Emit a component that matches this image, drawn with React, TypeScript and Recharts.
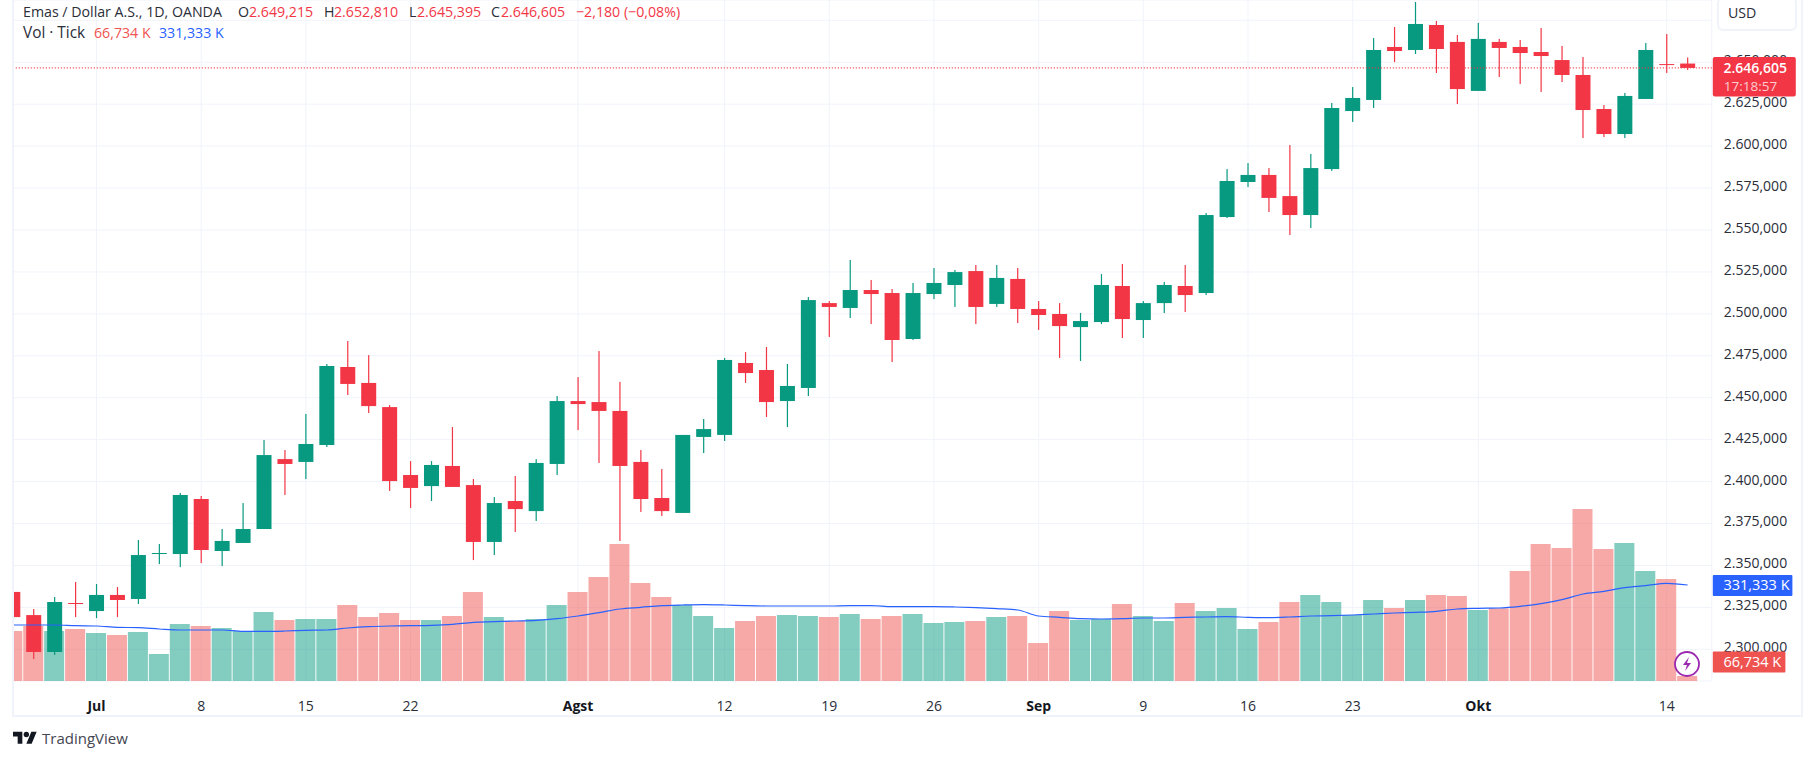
import { Bar, CartesianGrid, Cell, ComposedChart, Line, ReferenceLine, XAxis, YAxis } from 'recharts';

// prices in thousands, one row per trading week
const opens = [
  2334.2, 2320.4, 2298.4, 2327.6,
  2322.8, 2332.4, 2330.0, 2356.8, 2356.8,
  2389.6, 2358.6, 2363.4, 2371.7, 2413.4,
  2411.7, 2421.8, 2468.3, 2458.8, 2444.4,
  2403.9, 2397.3, 2409.3, 2397.9, 2364.0,
  2388.4, 2382.4, 2410.5, 2448.0, 2447.4,
  2442.1, 2411.7, 2390.2, 2381.3, 2426.6,
  2427.8, 2470.7, 2466.5, 2448.0, 2455.8,
  2506.4, 2503.5, 2514.2, 2512.4, 2485.0,
  2511.8, 2517.2, 2525.5, 2505.9, 2520.8,
  2502.9, 2499.9, 2492.1, 2495.1, 2516.6,
  2496.3, 2506.4, 2516.6, 2512.4, 2557.7,
  2578.6, 2582.8, 2570.2, 2558.9, 2586.3,
  2620.9, 2627.5, 2659.1, 2657.3, 2672.2,
  2662.1, 2632.9, 2662.1, 2659.1, 2656.1,
  2651.3, 2642.4, 2622.1, 2607.2, 2628.1,
  2648.9, 2649.215,
];
const highs = [
  2334.2, 2324.0, 2331.2, 2340.1,
  2338.9, 2337.1, 2365.2, 2362.8, 2393.2,
  2391.4, 2371.7, 2387.2, 2424.8, 2418.8,
  2440.3, 2470.1, 2483.8, 2475.4, 2445.6,
  2412.2, 2412.2, 2432.5, 2401.5, 2390.8,
  2403.3, 2413.4, 2451.0, 2462.3, 2477.8,
  2459.4, 2418.8, 2407.5, 2427.8, 2437.3,
  2473.7, 2477.2, 2480.2, 2470.1, 2510.0,
  2507.6, 2532.1, 2520.2, 2514.8, 2518.4,
  2527.3, 2526.1, 2529.1, 2529.1, 2527.3,
  2507.6, 2506.4, 2500.5, 2523.7, 2529.7,
  2507.6, 2519.0, 2529.1, 2560.1, 2586.3,
  2589.9, 2586.9, 2600.6, 2595.3, 2625.7,
  2635.2, 2664.4, 2671.0, 2685.9, 2674.6,
  2666.2, 2673.4, 2663.9, 2663.3, 2670.4,
  2659.7, 2653.1, 2624.5, 2631.7, 2661.5,
  2666.8, 2652.81,
];
const lows = [
  2319.2, 2294.2, 2296.6, 2319.2,
  2318.6, 2319.2, 2327.0, 2350.8, 2349.0,
  2351.4, 2349.6, 2363.4, 2371.7, 2392.0,
  2401.5, 2420.6, 2451.6, 2440.9, 2394.4,
  2384.2, 2388.4, 2396.8, 2353.2, 2356.2,
  2369.9, 2376.5, 2403.9, 2430.7, 2411.1,
  2364.6, 2381.9, 2379.5, 2381.3, 2417.0,
  2424.2, 2458.8, 2438.5, 2432.5, 2451.0,
  2486.2, 2497.5, 2493.9, 2471.3, 2484.4,
  2508.8, 2504.1, 2493.9, 2504.1, 2494.5,
  2490.4, 2473.7, 2471.9, 2493.9, 2485.6,
  2485.6, 2500.5, 2501.1, 2511.2, 2557.1,
  2575.6, 2560.7, 2547.0, 2551.2, 2585.2,
  2614.4, 2622.7, 2650.1, 2654.9, 2643.6,
  2625.1, 2632.9, 2641.2, 2637.0, 2632.3,
  2638.2, 2604.8, 2605.4, 2604.8, 2628.1,
  2643.6, 2645.395,
];
const closes = [
  2319.2, 2298.4, 2328.2, 2327.0,
  2332.4, 2329.4, 2356.2, 2357.4, 2392.0,
  2359.2, 2364.6, 2371.7, 2415.8, 2410.5,
  2422.4, 2468.9, 2458.2, 2445.0, 2400.3,
  2396.2, 2409.9, 2396.8, 2364.0, 2387.2,
  2383.6, 2411.1, 2448.0, 2446.2, 2442.1,
  2409.3, 2389.6, 2382.4, 2427.8, 2431.3,
  2472.5, 2464.7, 2447.4, 2457.0, 2508.2,
  2504.1, 2514.2, 2511.8, 2484.4, 2512.4,
  2518.4, 2524.9, 2504.1, 2521.4, 2502.9,
  2499.3, 2492.7, 2495.7, 2517.2, 2496.9,
  2506.4, 2517.2, 2511.2, 2558.9, 2579.2,
  2582.8, 2569.1, 2558.9, 2586.9, 2622.7,
  2628.7, 2657.3, 2656.7, 2672.8, 2657.9,
  2634.0, 2663.9, 2658.5, 2655.5, 2653.7,
  2642.4, 2621.5, 2607.2, 2629.9, 2657.3,
  2648.4, 2646.605,
];

// tick volume in thousands
const volumes = [
  197.6, 212.1, 197.6, 203.4,
  191.8, 186, 194.7, 130.7, 218,
  212.1, 206.3, 197.6, 252.9, 229.6,
  232.5, 232.5, 273.2, 238.3, 250,
  229.6, 229.6, 241.2, 311, 238.3,
  226.7, 232.5, 273.2, 311, 354.6,
  450.6, 337.2, 296.5, 273.2, 241.2,
  206.3, 226.7, 241.2, 244.1, 241.2,
  238.3, 247, 232.5, 241.2, 247,
  220.9, 223.8, 226.7, 238.3, 241.2,
  162.7, 255.8, 229.6, 232.5, 276.1,
  241.2, 226.7, 279, 255.8, 264.5,
  203.4, 223.8, 281.9, 302.3, 281.9,
  244.1, 287.8, 264.5, 287.8, 302.3,
  299.4, 258.7, 263.5, 372.1, 450.6,
  439, 552.4, 436.1, 453.5, 372.1,
  348.8, 66.734,
];
const volumeMa = [
  215, 215, 215, 213.1,
  212.2, 208.3, 207.3, 203.4, 200.5,
  200.5, 200.5, 196.6, 196.6, 197.6,
  199.5, 200.5, 206.3, 210.2, 212.2,
  213.1, 214.1, 217, 222.8, 224.8,
  226.7, 228.6, 233.5, 241.2, 250.9,
  261.6, 266.4, 271.3, 273.2, 274.2,
  273.2, 271.3, 270.3, 270.3, 270.3,
  270.3, 271.3, 271.3, 268.4, 268.4,
  268.4, 267.4, 265.5, 262.6, 258.7,
  241.2, 237.4, 233.5, 232.5, 233.5,
  235.4, 235.4, 237.4, 238.3, 239.3,
  237.4, 236.4, 238.3, 241.2, 242.2,
  244.1, 247, 250, 251.9, 254.8,
  261.6, 263.5, 264.5, 269.3, 277,
  288.7, 305.2, 313, 323.6, 329.4,
  336.2, 331.333,
];

const dateTicks = [4, 9, 14, 19, 27, 34, 39, 44, 49, 54, 59, 64, 70, 79];
const dateLabels = ['Jul', '8', '15', '22', 'Agst', '12', '19', '26', 'Sep', '9', '16', '23', 'Okt', '14'];
const monthNames = ['Jul', 'Agst', 'Sep', 'Okt'];
const priceTicks = [2300, 2325, 2350, 2375, 2400, 2425, 2450, 2475, 2500, 2525, 2550, 2575, 2600, 2625, 2650, 2675];
const priceDomain = [2281.1, 2687.1];
const volumeDomain = [52.2, 2032.5];

const lastClose = 2646.605;
const lastVolume = 66.734;
const lastMa = 331.333;

const UP = '#089981';
const DOWN = '#F23645';
const FONT = "'Open Sans', sans-serif";
const RIGHT_AXIS = 103.2;

const rows = opens.map((open, i) => ({
  idx: i,
  open,
  close: closes[i],
  high: highs[i],
  low: lows[i],
  range: [lows[i], highs[i]],
  volume: volumes[i],
  ma: volumeMa[i],
}));

const formatPrice = (v: number) => {
  const s = Math.round(v * 1000).toString();
  return `${s.slice(0, 1)}.${s.slice(1, 4)},${s.slice(4)}`;
};

const Candle = (props: any) => {
  const { x, y, width, height, payload } = props;
  const { open, close, high, low } = payload;
  const toY = (v: number) => y + ((high - v) / (high - low)) * height;
  const top = toY(Math.max(open, close));
  const bottom = toY(Math.min(open, close));
  const fill = close >= open ? UP : DOWN;
  const cx = x + width / 2;
  return (
    <g>
      <rect x={cx - 0.6} y={y} width={1.2} height={height} fill={fill} />
      <rect x={x} y={top} width={width} height={Math.max(bottom - top, 1)} fill={fill} />
    </g>
  );
};

const DateTick = (props: any) => {
  const { x, y, payload } = props;
  const label = dateLabels[dateTicks.indexOf(payload.value)];
  const isMonth = monthNames.includes(label);
  return (
    <text x={x} y={y + 22} textAnchor="middle" fontFamily={FONT} fontSize={14} fontWeight={isMonth ? 700 : 400} fill={isMonth ? '#131722' : '#2a2e39'}>
      {label}
    </text>
  );
};

const PriceTick = (props: any) => {
  const { x, y, payload } = props;
  if (payload.value === 2675) return null;
  return (
    <text x={x} y={y + 3} fontFamily={FONT} fontSize={14} fill="#2a2e39">
      {formatPrice(payload.value)}
    </text>
  );
};

const PriceBadge = ({ viewBox }: any) => {
  const left = viewBox.x + viewBox.width + 1;
  return (
    <g fontFamily={FONT}>
      <rect x={left} y={viewBox.y - 11} width={83} height={39.5} rx={2} fill={DOWN} />
      <text x={left + 10.6} y={viewBox.y + 5} fontSize={14} fontWeight={600} fill="#fff">{formatPrice(lastClose)}</text>
      <text x={left + 11} y={viewBox.y + 23} fontSize={13.5} fill="#fff" fillOpacity={0.75}>17:18:57</text>
    </g>
  );
};

// shift keeps the badge off the bottom of the pane, as the reference does
const VolumeBadge = ({ viewBox, text, fill, w, shift = 0 }: any) => {
  const left = viewBox.x + viewBox.width + 1;
  const mid = viewBox.y - shift;
  return (
    <g fontFamily={FONT}>
      <rect x={left} y={mid - 10} width={w} height={21} rx={1} fill={fill} />
      <text x={left + 10.6} y={mid + 5} fontSize={14.5} fill="#fff">{text}</text>
    </g>
  );
};

const headerText = { position: 'absolute', fontFamily: FONT, fontSize: 14.2, lineHeight: '18px', whiteSpace: 'pre' } as const;

const Txt = ({ x, y, color, size, children }: any) => (
  <span style={{ ...headerText, left: x, top: y, color, fontSize: size ?? 14.2 }}>{children}</span>
);

export default function App() {
  return (
    <div style={{ position: 'absolute', left: 0, top: 0, width: 1815, height: 760, background: '#fff', overflow: 'hidden' }}>
      <ComposedChart width={1815} height={760} data={rows} margin={{ top: 0, right: 0, bottom: 44, left: 2.29 }}>
        <CartesianGrid stroke="#f0f3fa" />
        <XAxis
          dataKey="idx"
          ticks={dateTicks}
          interval={0}
          height={35}
          axisLine={false}
          tickLine={false}
          padding={{ left: 0, right: 13.7 }}
          tick={<DateTick />}
        />
        <XAxis xAxisId="vol" dataKey="idx" hide padding={{ left: 0, right: 13.7 }} />
        <YAxis
          orientation="right"
          width={RIGHT_AXIS}
          domain={priceDomain}
          allowDataOverflow
          ticks={priceTicks}
          interval={0}
          axisLine={false}
          tickLine={false}
          tick={<PriceTick />}
          tickSize={0}
          tickMargin={12}
        />
        <YAxis yAxisId="vol" hide domain={volumeDomain} allowDataOverflow />
        <Bar xAxisId="vol" yAxisId="vol" dataKey="volume" barSize={20} isAnimationActive={false}>
          {rows.map((r) => (
            <Cell key={r.idx} fill={r.close >= r.open ? 'rgba(8,153,129,0.5)' : 'rgba(239,83,80,0.5)'} />
          ))}
        </Bar>
        <Line xAxisId="vol" yAxisId="vol" dataKey="ma" type="monotone" stroke="#2962FF" strokeWidth={1.2} dot={false} isAnimationActive={false} />
        <Bar dataKey="range" barSize={15} shape={<Candle />} isAnimationActive={false} />
        <ReferenceLine y={lastClose} stroke={DOWN} strokeWidth={1.3} strokeDasharray="1 2" />
      </ComposedChart>

      {/* second layer so the last-value badges sit over the price ticks */}
      <div style={{ position: 'absolute', left: 0, top: 0 }}>
        <ComposedChart width={1815} height={760} data={rows} margin={{ top: 0, right: RIGHT_AXIS, bottom: 79, left: 2.29 }}>
          <XAxis dataKey="idx" hide />
          <YAxis hide domain={priceDomain} allowDataOverflow />
          <YAxis yAxisId="vol" hide domain={volumeDomain} allowDataOverflow />
          <ReferenceLine y={lastClose} stroke="none" label={<PriceBadge />} />
          <ReferenceLine yAxisId="vol" y={lastMa} stroke="none" label={<VolumeBadge text="331,333 K" fill="#2962FF" w={79.6} />} />
          <ReferenceLine yAxisId="vol" y={lastVolume} stroke="none" label={<VolumeBadge text="66,734 K" fill="#EF5350" w={72.6} shift={14.5} />} />
        </ComposedChart>
      </div>

      {/* pane frame, also trims the first candle at the left edge */}
      <div style={{ position: 'absolute', left: 0, top: 0, width: 12, height: 760, background: '#fff' }} />
      <div style={{ position: 'absolute', left: 12, top: 0, width: 1787, height: 715, borderLeft: '2px solid #f0f3fa', borderRight: '2px solid #f0f3fa', borderBottom: '2px solid #f0f3fa', pointerEvents: 'none' }} />

      <Txt x={23} y={3} color="#2a2e39">Emas / Dollar A.S., 1D, OANDA</Txt>
      <Txt x={238} y={3} color="#2a2e39">O</Txt>
      <Txt x={249} y={3} color={DOWN}>2.649,215</Txt>
      <Txt x={324} y={3} color="#2a2e39">H</Txt>
      <Txt x={334} y={3} color={DOWN}>2.652,810</Txt>
      <Txt x={409} y={3} color="#2a2e39">L</Txt>
      <Txt x={417} y={3} color={DOWN}>2.645,395</Txt>
      <Txt x={491} y={3} color="#2a2e39">C</Txt>
      <Txt x={501} y={3} color={DOWN}>2.646,605</Txt>
      <Txt x={576} y={3} color={DOWN}>−2,180 (−0,08%)</Txt>
      <Txt x={23} y={24} color="#2a2e39" size={15.4}>Vol · Tick</Txt>
      <Txt x={94} y={24} color="#EF5350">66,734 K</Txt>
      <Txt x={159} y={24} color="#2962FF">331,333 K</Txt>

      <div style={{ position: 'absolute', left: 1717, top: -3, width: 76, height: 30, border: '2px solid #f0f3fa', borderRadius: 6, background: '#fff' }} />
      <Txt x={1728} y={4} color="#2a2e39">USD</Txt>

      <svg style={{ position: 'absolute', left: 1674, top: 651 }} width={26} height={26} viewBox="0 0 26 26">
        <circle cx={13} cy={13} r={12} fill="#fff" stroke="#9c27b0" strokeWidth={1.8} />
        <path d="M15 6 L9 14 H13 L11 20 L17 12 H13 Z" fill="#9c27b0" />
      </svg>

      <svg style={{ position: 'absolute', left: 13, top: 729 }} width={24} height={19} viewBox="0 0 36 28">
        <path d="M14 22H7V11H0V4h14v18zM28 22h-8l7.5-18h8L28 22z" fill="#131722" />
        <circle cx={20} cy={8} r={4} fill="#131722" />
      </svg>
      <span style={{ position: 'absolute', left: 42, top: 728, fontFamily: FONT, fontSize: 15, lineHeight: '20px', color: '#434651' }}>TradingView</span>
    </div>
  );
}
